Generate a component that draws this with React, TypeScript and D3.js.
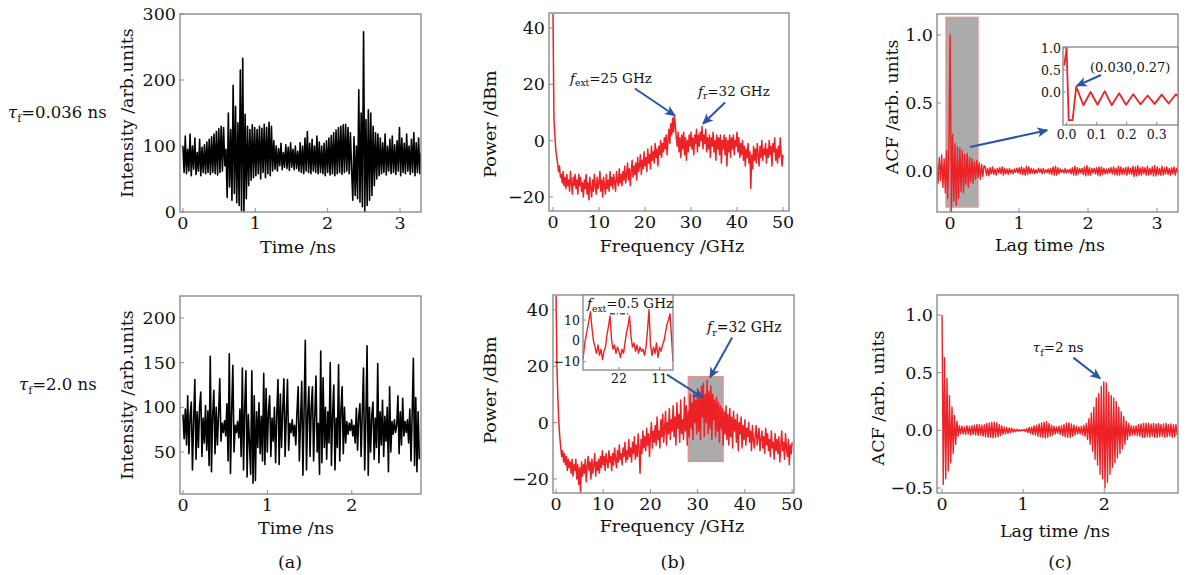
import React from "react";
import * as d3 from "d3";

// ---------- (a) intensity time series ----------
const timeSpanA1 = 3.29; // ns
const intensityA1 = [
  100, 60, 115, 58, 95, 62, 118, 55, 100, 65, 112, 57, 90, 62, 110, 55, 98, 60,
  102, 58, 106, 60, 110, 57, 114, 60, 118, 58, 122, 56, 126, 60, 130, 62,
  128, 70, 95,
  22, 150, 38, 125, 18, 192, 28, 160, 14, 135, 10, 215, 2, 233, 0, 148, 20, 130, 40, 125, 48, 132,
  52, 128, 55, 125, 58, 130, 50, 127, 60, 133, 52, 128, 58, 136, 55, 130, 62, 108,
  65, 100, 62, 96, 70, 104, 64, 90, 68, 102, 66, 98, 63, 105, 68, 95, 64, 100, 66, 92, 62,
  105, 60, 100, 58, 112, 62, 122, 60, 104, 58, 110, 62, 100, 60, 115, 58, 106, 60,
  100, 58, 104, 55, 108, 60, 112, 56, 116, 58, 120, 55, 124, 58, 128, 60, 130, 57, 132, 60, 133, 62, 128, 58, 120, 65,
  18, 114, 25, 100, 20, 185, 15, 150, 8, 273, 0, 140, 10, 155, 18, 150, 25, 130, 40, 120, 50, 118,
  55, 112, 58, 105, 60, 118, 56, 100, 62, 110, 58, 115, 60, 102, 57, 108, 62, 128, 55, 112, 60, 104, 58, 118, 62, 100, 57, 110, 60, 120, 55, 105, 60, 112, 58, 90,
];

const timeSpanA2 = 2.8; // ns
const intensityA2 = [
  92, 65, 98, 58, 113, 48, 90, 106, 30, 85, 131, 42, 95, 55, 100, 117, 45, 88, 60, 102,
  52, 96, 35, 157, 28, 90, 119, 48, 100, 58, 92, 132, 62, 82, 72, 85, 68, 104, 40, 160,
  26, 95, 147, 50, 80, 72, 84, 66, 98, 45, 144, 30, 100, 141, 22, 92, 60, 25, 141, 15,
  113, 18, 95, 55, 105, 48, 90, 40, 138, 36, 121, 50, 95, 113, 45, 88, 62, 100, 38, 92,
  131, 36, 115, 55, 98, 132, 45, 90, 131, 52, 82, 72, 86, 68, 80, 58, 95, 123, 40, 85,
  129, 24, 98, 175, 30, 92, 123, 45, 100, 123, 40, 90, 135, 50, 82, 25, 163, 38, 133, 55,
  100, 42, 95, 60, 150, 35, 92, 125, 30, 88, 55, 148, 40, 96, 123, 48, 100, 60, 84, 70,
  82, 74, 86, 68, 80, 60, 99, 52, 90, 104, 45, 95, 144, 30, 85, 169, 24, 100, 50, 92,
  106, 42, 88, 55, 149, 38, 95, 58, 108, 45, 90, 62, 100, 28, 123, 50, 84, 70, 86, 72,
  80, 113, 48, 95, 58, 110, 68, 84, 72, 86, 60, 98, 40, 92, 155, 35, 111, 28, 95, 42,
];

// ---------- (b) power spectra ----------
const freqStep = 0.2; // GHz
const spectrumB1 = [
  45, 8, 2, -3, -6, -8, -11, -9, -13, -12, -15, -11, -16, -13, -17, -12, -16, -14, -18, -11,
  -15, -19, -13, -16, -12, -17, -14, -19, -12, -16, -13, -18, -15, -20, -14, -17, -12, -19, -15, -21,
  -13, -17, -20, -14, -18, -12, -16, -19, -13, -17, -15, -11, -18, -14, -20, -13, -16, -19, -12, -17,
  -14, -18, -11, -16, -13, -17, -12, -15, -18, -11, -14, -16, -10, -15, -12, -16, -11, -14, -9, -15,
  -12, -8, -14, -10, -16, -11, -7, -13, -9, -12, -8, -14, -6, -11, -9, -5, -12, -7, -10, -4,
  -9, -6, -11, -3, -8, -5, -10, -2, -7, -4, -8, -1, -6, -3, -9, -2, -5, 0, -6, -1,
  -4, 1, -3, 2, -5, 0, 4, -1, 6, 2, 8, 3, 9, 5, 1, -2, 3, -4, 1, -6,
  2, -3, 3, -5, 1, -7, 0, -4, 2, -2, 3, -3, 1, -5, 2, -1, 4, -4, 2, -2,
  3, 0, 5, -3, 2, -1, 4, -4, 1, -3, 2, -6, 1, -2, 3, -4, 0, -7, 2, -3,
  1, -5, 2, -8, 0, -3, 2, -5, 1, -9, 0, -4, 2, -6, 1, -3, 2, -5, 0, -2,
  3, -4, 1, -6, -1, -5, 0, -7, -2, -9, -3, -6, -1, -8, -4, -17, -5, -10, -2, -7,
  -3, -8, -1, -5, -9, -2, -6, 0, -7, -3, -5, -1, -8, -3, -6, 0, -5, -2, -9, -1,
  -4, 1, -7, -3, -8, -2, -6, 1, -5, -9, -5,
];

const spectrumB2 = [
  45, 20, 8, 0, -5, -9, -12, -10, -14, -11, -15, -12, -17, -13, -16, -14, -18, -13, -19, -15,
  -17, -13, -20, -15, -22, -16, -25, -14, -19, -15, -18, -13, -21, -16, -12, -17, -14, -20, -13, -18,
  -15, -11, -19, -14, -17, -13, -18, -12, -16, -10, -15, -12, -17, -11, -14, -16, -10, -14, -12, -17,
  -11, -15, -9, -13, -16, -10, -14, -8, -13, -11, -15, -9, -12, -7, -14, -10, -13, -6, -12, -9,
  -14, -7, -11, -5, -13, -8, -12, -4, -10, -18, -6, -11, -3, -9, -5, -10, -2, -8, -4, -12,
  -5, 0, -9, -3, -7, -1, -8, 2, -6, -3, -9, 1, -5, 3, -7, -2, 4, -8, 0, -4,
  5, -6, 1, -3, 6, -5, 2, -8, 7, -2, 3, -7, 8, -4, 1, -6, 9, -3, 6, -8,
  4, -5, 10, -2, 7, -6, 11, 0, 8, -4, 12, -3, 9, -6, 13, 2, 14, -5, 10, 0,
  15, -4, 11, -2, 13, -6, 10, 1, 8, -5, 9, -3, 7, -7, 6, -2, 5, -8, 4, -4,
  6, -6, 3, -8, 5, -5, 2, -9, 4, -3, 1, -7, 3, -10, 0, -4, 2, -9, -1, -6,
  1, -8, -2, -5, 0, -7, -3, -10, -1, -6, -9, -4, -1, -8, -5, -2, -10, -6, -3, -9,
  -5, -11, -2, -8, -4, -10, -6, -12, -3, -9, -7, -13, -4, -10, -6, -11, -5, -14, -8, -3,
  -10, -7, -13, -4, -9, -12, -6, -15, -8, -11, -7,
];

// inset of (b) lower: comb lines spaced by f_ext
const insetBValues = [
  -9, -2, 2, 6, 10, 14, 6, 0, -3, -6, -2, -7, -4, -9, -5, -3, 3, 7, 12, 1,
  -4, -2, -6, -3, -5, -8, -4, -6, -1, 4, 7, 12, 2, -3, -1, -5, -2, -6, -3, -5,
  -4, -7, -3, 5, 15, -2, -7, -3, -6, -1, -8, -3, -5, -2, 0, 4, 8, 10, 13, 2, -10,
];
const insetBTickPos = [24, 51];
const insetBTickLabels = ["22", "11"];
const insetBYTicks = [-10, 0, 10];

// ---------- (c) autocorrelation ----------
const lagStartC1 = -0.19;
const lagEndC1 = 3.3;
const acfC1 = [
  0.04, -0.09, 0.10, -0.07, 0.12, -0.12, 0.09, -0.16, 0.15, -0.20,
  0.22, 1.00, -0.30, 0.27, -0.22, 0.20, -0.25, 0.18, -0.20, 0.17,
  -0.15, 0.15, -0.16, 0.12, -0.10, 0.13, -0.12, 0.10, -0.08, 0.09,
  -0.09, 0.07, -0.06, 0.08, -0.05, 0.06, -0.06, 0.05, -0.04, 0.04,
  0.03, -0.03, 0.02, -0.035, 0.025, -0.02, 0.03, -0.025, 0.015, -0.03,
  0.02, -0.015, 0.025, -0.02, 0.03, -0.03, 0.02, -0.02, 0.015, -0.025,
  0.02, -0.015, 0.01, -0.02, 0.015, -0.01, 0.02, -0.015, 0.025, -0.02,
  0.03, -0.025, 0.02, -0.03, 0.035, -0.025, 0.03, -0.02, 0.02, -0.015,
  0.015, -0.02, 0.01, -0.015, 0.02, -0.01, 0.015, -0.02, 0.02, -0.015,
  0.01, -0.01, 0.015, -0.02, 0.02, -0.025, 0.03, -0.03, 0.035, -0.03,
  0.025, -0.02, 0.015, -0.01, 0.01, -0.015, 0.02, -0.015, 0.01, -0.01,
  0.015, -0.02, 0.025, -0.03, 0.035, -0.03, 0.025, -0.02, 0.02, -0.015,
  0.02, -0.025, 0.03, -0.035, 0.04, -0.03, 0.025, -0.03, 0.02, -0.015,
  0.02, -0.02, 0.025, -0.03, 0.03, -0.035, 0.03, -0.025, 0.02, -0.02,
  0.015, -0.02, 0.02, -0.015, 0.025, -0.02, 0.03, -0.025, 0.02, -0.03,
  0.035, -0.03, 0.03, -0.025, 0.02, -0.02, 0.025, -0.03, 0.03, -0.02,
  0.02, -0.025, 0.035, -0.04, 0.03, -0.035, 0.04, -0.03, 0.025, -0.03,
  0.03, -0.02, 0.025, -0.03, 0.035, -0.03, 0.02, -0.025, 0.03, -0.035,
  0.04, -0.035, 0.03, -0.025, 0.02, -0.03, 0.035, -0.03, 0.025, -0.02,
  0.03, -0.025, 0.02, -0.03, 0.025, -0.02, 0.03, -0.03, 0.02, -0.01,
];

const insetCLag = [-0.008, 0.0, 0.007, 0.02, 0.032, 0.056, 0.08, 0.103, 0.127, 0.15, 0.175, 0.198, 0.222, 0.246, 0.27, 0.293, 0.317, 0.34, 0.364, 0.371];
const insetCAcf = [0.6, 1.0, -0.64, -0.64, 0.12, -0.3, 0.0, -0.29, 0.02, -0.3, -0.03, -0.29, -0.05, -0.28, -0.08, -0.27, -0.06, -0.26, -0.05, -0.1];
const insetCXTicks = [0, 0.1, 0.2, 0.3];
const insetCYTicks = [0, 0.5, 1.0];

const lagEndC2 = 2.9;
const acfC2 = [
  1.0, -0.47, 0.63, -0.42, 0.45, -0.35, 0.3, -0.28, 0.2, -0.2, 0.13, -0.12, 0.08,
  -0.05, 0.04, -0.03, 0.035, -0.03, 0.03, -0.035, 0.04, -0.03, 0.035, -0.04, 0.04, -0.035, 0.045, -0.04, 0.05, -0.045, 0.05, -0.04,
  0.045, -0.05, 0.05, -0.055, 0.06, -0.06, 0.065, -0.06, 0.07, -0.065, 0.07, -0.06, 0.065, -0.055, 0.05, -0.045, 0.04,
  -0.035, 0.03, -0.03, 0.025, -0.025, 0.02, -0.02, 0.018, -0.015, 0.012, -0.012, 0.01, -0.008, 0.006, -0.005, 0.004, -0.004,
  0.008, -0.012, 0.015, -0.02, 0.025, -0.028, 0.03, -0.035, 0.04, -0.04, 0.045, -0.05, 0.055,
  -0.055, 0.065, -0.06, 0.07, -0.065, 0.075, -0.06, 0.06, -0.05, 0.045, -0.04, 0.035,
  -0.03, 0.03, -0.025, 0.035, -0.035, 0.04, -0.045,
  0.05, -0.055, 0.065, -0.06, 0.065, -0.06, 0.055, -0.05, 0.045, -0.04, 0.035,
  -0.03, 0.03, -0.03, 0.035, -0.04, 0.045, -0.05, 0.06, -0.08, 0.1,
  -0.12, 0.15, -0.18, 0.2, -0.25, 0.28, -0.3, 0.32, -0.38, 0.38, -0.42,
  0.42, -0.5, 0.41, -0.45, 0.33, -0.38, 0.3,
  -0.32, 0.28, -0.28, 0.25, -0.24, 0.2, -0.2, 0.16, -0.16, 0.12, -0.12, 0.08, -0.08, 0.06,
  -0.05, 0.04, -0.04, 0.035, -0.04, 0.04, -0.045, 0.05, -0.05, 0.055, -0.06, 0.06,
  -0.06, 0.06, -0.055, 0.06, -0.06, 0.055, -0.05, 0.06, -0.06, 0.055, -0.06, 0.06, -0.055, 0.05,
  -0.05, 0.055, -0.06, 0.06, -0.055, 0.05, -0.05, 0.055, -0.06, 0.05, -0.055, 0.05, -0.04,
];

// ---------- styling ----------
const FONT = "'DejaVu Serif', serif";
const RED = "#ec2227";
const BLUE = "#2756a6";
const FRAME = "#8c8c8c";
const GRAY = "#ababab";
const PINK = "#f08a8a";
const FS = 17.5;

type Lin = d3.ScaleLinear<number, number>;

function Frame({ xs, ys, xTicks, yTicks, xFmt, yFmt, fs = FS, tick = 4, xDy = 17, yDx = 4 }: any) {
  const [x0, x1] = xs.range();
  const [y0, y1] = ys.range();
  return (
    <g fontFamily={FONT} fontSize={fs} fill="#111">
      <rect x={x0} y={y1} width={x1 - x0} height={y0 - y1} fill="none" stroke={FRAME} strokeWidth={1.4} />
      {xTicks.map((t: number, i: number) => (
        <g key={"x" + i}>
          <line x1={xs(t)} x2={xs(t)} y1={y0} y2={y0 - tick} stroke={FRAME} strokeWidth={1} />
          <text x={xs(t)} y={y0 + xDy} textAnchor="middle">{xFmt(t, i)}</text>
        </g>
      ))}
      {yTicks.map((t: number, i: number) => (
        <g key={"y" + i}>
          <line x1={x0} x2={x0 + tick} y1={ys(t)} y2={ys(t)} stroke={FRAME} strokeWidth={1} />
          <text x={x0 - yDx} y={ys(t)} textAnchor="end" dominantBaseline="central">{yFmt(t, i)}</text>
        </g>
      ))}
    </g>
  );
}

function seriesPath(xs: Lin, ys: Lin, vals: number[], x0: number, x1: number) {
  const step = (x1 - x0) / (vals.length - 1);
  return d3.line<number>().x((_, i) => xs(x0 + i * step)).y((d) => ys(d))(vals) || "";
}

function Arrow({ x1, y1, x2, y2 }: { x1: number; y1: number; x2: number; y2: number }) {
  return <line x1={x1} y1={y1} x2={x2} y2={y2} stroke={BLUE} strokeWidth={2} markerEnd="url(#arrowHead)" />;
}

function Sub({ x, y, main, sub, rest, fs = 13.5, italicMain = true }: any) {
  return (
    <text x={x} y={y} fontFamily={FONT} fontSize={fs} fill="#111">
      <tspan fontStyle={italicMain ? "italic" : "normal"}>{main}</tspan>
      <tspan fontSize={fs * 0.68} dy={fs * 0.28}>{sub}</tspan>
      <tspan dy={-fs * 0.28}>{rest}</tspan>
    </text>
  );
}

const intFmt = (d: number) => d3.format("d")(d);
const oneFmt = (d: number) => d3.format(".1f")(d);

export default function App() {
  const xA1 = d3.scaleLinear().domain([-0.04, 3.29]).range([180, 421]);
  const yA1 = d3.scaleLinear().domain([0, 300]).range([212, 14]);
  const xA2 = d3.scaleLinear().domain([-0.035, 2.82]).range([180, 421]);
  const yA2 = d3.scaleLinear().domain([3, 224.6]).range([494, 296]);
  const xB1 = d3.scaleLinear().domain([-0.87, 51.3]).range([549, 789]);
  const yB1 = d3.scaleLinear().domain([-25, 45.3]).range([211, 13]);
  const xB2 = d3.scaleLinear().domain([-0.64, 50.4]).range([553, 794]);
  const yB2 = d3.scaleLinear().domain([-25, 45.3]).range([493, 295]);
  const xC1 = d3.scaleLinear().domain([-0.188, 3.304]).range([937, 1178]);
  const yC1 = d3.scaleLinear().domain([-0.301, 1.154]).range([212, 14]);
  const xC2 = d3.scaleLinear().domain([-0.062, 2.91]).range([937, 1178]);
  const yC2 = d3.scaleLinear().domain([-0.543, 1.173]).range([493, 295]);
  const xIB = d3.scaleLinear().domain([0, insetBValues.length - 1]).range([583, 673]);
  const yIB = d3.scaleLinear().domain([-14, 22]).range([370, 295]);
  const xIC = d3.scaleLinear().domain([-0.012, 0.371]).range([1063, 1178]);
  const yIC = d3.scaleLinear().domain([-0.75, 1.023]).range([125, 47]);

  const clip = (id: string, xs: Lin, ys: Lin) => {
    const [x0, x1] = xs.range();
    const [y0, y1] = ys.range();
    return (
      <clipPath id={id} key={id}>
        <rect x={x0} y={y1} width={x1 - x0} height={y0 - y1} />
      </clipPath>
    );
  };

  const specEnd = (arr: number[]) => (arr.length - 1) * freqStep;
  const insetCPath = d3.line<number>().x((_, i) => xIC(insetCLag[i])).y((d) => yIC(d))(insetCAcf) || "";
  const title = { fontFamily: FONT, fontSize: FS, fill: "#111" } as any;

  return (
    <svg width={1186} height={575} style={{ position: "absolute", left: 0, top: 0, background: "#fff" }}>
      <defs>
        <marker id="arrowHead" viewBox="0 0 10 10" refX={9} refY={5} markerWidth={5.5} markerHeight={5.5} orient="auto">
          <path d="M0,0.5 L10,5 L0,9.5 L2.5,5 z" fill={BLUE} />
        </marker>
        {clip("cA1", xA1, yA1)}
        {clip("cA2", xA2, yA2)}
        {clip("cB1", xB1, yB1)}
        {clip("cB2", xB2, yB2)}
        {clip("cC1", xC1, yC1)}
        {clip("cC2", xC2, yC2)}
        {clip("cIB", xIB, yIB)}
        {clip("cIC", xIC, yIC)}
      </defs>

      {/* row labels */}
      <text x={8} y={118} fontFamily={FONT} fontSize={16.5} fill="#111">
        <tspan fontStyle="italic">τ</tspan>
        <tspan fontSize={11} dy={4}>f</tspan>
        <tspan dy={-4}>=0.036 ns</tspan>
      </text>
      <text x={19} y={390} fontFamily={FONT} fontSize={16.5} fill="#111">
        <tspan fontStyle="italic">τ</tspan>
        <tspan fontSize={11} dy={4}>f</tspan>
        <tspan dy={-4}>=2.0 ns</tspan>
      </text>

      {/* ===== (a) top ===== */}
      <g clipPath="url(#cA1)">
        <path d={seriesPath(xA1, yA1, intensityA1, 0, timeSpanA1)} fill="none" stroke="#000" strokeWidth={1.6} strokeLinejoin="round" />
      </g>
      <Frame xs={xA1} ys={yA1} xTicks={[0, 1, 2, 3]} yTicks={[0, 100, 200, 300]} xFmt={intFmt} yFmt={intFmt} />
      <text transform="translate(133,113) rotate(-90)" textAnchor="middle" {...title}>Intensity /arb.units</text>
      <text x={298} y={253} textAnchor="middle" {...title}>Time /ns</text>

      {/* ===== (a) bottom ===== */}
      <g clipPath="url(#cA2)">
        <path d={seriesPath(xA2, yA2, intensityA2, 0, timeSpanA2)} fill="none" stroke="#000" strokeWidth={1.6} strokeLinejoin="round" />
      </g>
      <Frame xs={xA2} ys={yA2} xTicks={[0, 1, 2]} yTicks={[50, 100, 150, 200]} xFmt={intFmt} yFmt={intFmt} />
      <text transform="translate(133,395) rotate(-90)" textAnchor="middle" {...title}>Intensity /arb.units</text>
      <text x={296} y={534} textAnchor="middle" {...title}>Time /ns</text>

      {/* ===== (b) top ===== */}
      <g clipPath="url(#cB1)">
        <path d={seriesPath(xB1, yB1, spectrumB1, 0, specEnd(spectrumB1))} fill="none" stroke={RED} strokeWidth={1.5} strokeLinejoin="round" />
      </g>
      <Frame xs={xB1} ys={yB1} xTicks={[0, 10, 20, 30, 40, 50]} yTicks={[-20, 0, 20, 40]} xFmt={intFmt} yFmt={intFmt} />
      <text transform="translate(496,124) rotate(-90)" textAnchor="middle" {...title}>Power /dBm</text>
      <text x={672} y={252} textAnchor="middle" {...title}>Frequency /GHz</text>
      <Sub x={xB1(3.7)} y={yB1(20.6)} main="f" sub="ext" rest="=25 GHz" />
      <Sub x={xB1(31.5)} y={yB1(16)} main="f" sub="r" rest="=32 GHz" />
      <Arrow x1={xB1(17.8)} y1={yB1(18.5)} x2={xB1(26.5)} y2={yB1(8.9)} />
      <Arrow x1={xB1(37.4)} y1={yB1(13.5)} x2={xB1(32.6)} y2={yB1(6)} />

      {/* ===== (b) bottom ===== */}
      <rect x={xB2(28)} y={yB2(16.3)} width={xB2(35.4) - xB2(28)} height={yB2(-13.8) - yB2(16.3)} fill={GRAY} stroke={PINK} strokeWidth={1.2} />
      <g clipPath="url(#cB2)">
        <path d={seriesPath(xB2, yB2, spectrumB2, 0, specEnd(spectrumB2))} fill="none" stroke={RED} strokeWidth={1.5} strokeLinejoin="round" />
      </g>
      <Frame xs={xB2} ys={yB2} xTicks={[0, 10, 20, 30, 40, 50]} yTicks={[-20, 0, 20, 40]} xFmt={intFmt} yFmt={intFmt} />
      <text transform="translate(496,390) rotate(-90)" textAnchor="middle" {...title}>Power /dBm</text>
      <text x={672} y={532} textAnchor="middle" {...title}>Frequency /GHz</text>
      {/* inset */}
      <rect x={583} y={295} width={90} height={75} fill="#fff" />
      <g clipPath="url(#cIB)">
        <path d={seriesPath(xIB, yIB, insetBValues, 0, insetBValues.length - 1)} fill="none" stroke={RED} strokeWidth={1.4} strokeLinejoin="round" />
      </g>
      <line x1={xIB(18)} x2={xIB(31)} y1={yIB(13)} y2={yIB(13)} stroke={BLUE} strokeWidth={1.5} strokeDasharray="5,2,1,2" />
      <Frame xs={xIB} ys={yIB} xTicks={insetBTickPos} yTicks={insetBYTicks} xFmt={(_: number, i: number) => insetBTickLabels[i]} yFmt={intFmt} fs={12.5} tick={3} xDy={13} yDx={3} />
      <Sub x={587} y={308} main="f" sub="ext" rest="=0.5 GHz" fs={13.5} />
      <Sub x={xB2(32)} y={yB2(32)} main="f" sub="r" rest="=32 GHz" fs={14} />
      <Arrow x1={xB2(37.3)} y1={yB2(30.2)} x2={xB2(32.6)} y2={yB2(16)} />
      <Arrow x1={xB2(23.5)} y1={yB2(17)} x2={xB2(31.1)} y2={yB2(8.9)} />

      {/* ===== (c) top ===== */}
      <rect x={xC1(-0.058)} y={yC1(1.13)} width={xC1(0.406) - xC1(-0.058)} height={yC1(-0.265) - yC1(1.13)} fill={GRAY} stroke={PINK} strokeWidth={1.2} />
      <g clipPath="url(#cC1)">
        <path d={seriesPath(xC1, yC1, acfC1, lagStartC1, lagEndC1)} fill="none" stroke={RED} strokeWidth={1.4} strokeLinejoin="round" />
      </g>
      <Frame xs={xC1} ys={yC1} xTicks={[0, 1, 2, 3]} yTicks={[0, 0.5, 1.0]} xFmt={intFmt} yFmt={oneFmt} />
      <text transform="translate(898,107) rotate(-90)" textAnchor="middle" {...title}>ACF /arb. units</text>
      <text x={1050} y={251} textAnchor="middle" {...title}>Lag time /ns</text>
      {/* inset */}
      <rect x={1063} y={47} width={115} height={78} fill="#fff" />
      <g clipPath="url(#cIC)">
        <path d={insetCPath} fill="none" stroke={RED} strokeWidth={1.8} strokeLinejoin="round" />
      </g>
      <Frame xs={xIC} ys={yIC} xTicks={insetCXTicks} yTicks={insetCYTicks} xFmt={oneFmt} yFmt={oneFmt} fs={12.5} tick={3} xDy={14} yDx={2} />
      <text x={1090} y={72} fontFamily={FONT} fontSize={13} fill="#111">(0.030,0.27)</text>
      <Arrow x1={1101} y1={75} x2={xIC(0.034)} y2={yIC(0.14)} />
      <Arrow x1={xC1(0.29)} y1={yC1(0.176)} x2={xC1(1.41)} y2={yC1(0.3)} />

      {/* ===== (c) bottom ===== */}
      <g clipPath="url(#cC2)">
        <path d={seriesPath(xC2, yC2, acfC2, 0, lagEndC2)} fill="none" stroke={RED} strokeWidth={1.4} strokeLinejoin="round" />
      </g>
      <Frame xs={xC2} ys={yC2} xTicks={[0, 1, 2]} yTicks={[-0.5, 0, 0.5, 1.0]} xFmt={intFmt} yFmt={oneFmt} />
      <text transform="translate(884,398) rotate(-90)" textAnchor="middle" {...title}>ACF /arb. units</text>
      <text x={1055} y={537} textAnchor="middle" {...title}>Lag time /ns</text>
      <text x={xC2(1.12)} y={yC2(0.68)} fontFamily={FONT} fontSize={13.5} fill="#111">
        <tspan fontStyle="italic">τ</tspan>
        <tspan fontSize={9.2} dy={3.8}>f</tspan>
        <tspan dy={-3.8}>=2 ns</tspan>
      </text>
      <Arrow x1={xC2(1.62)} y1={yC2(0.63)} x2={xC2(1.95)} y2={yC2(0.45)} />

      {/* panel letters */}
      <text x={290} y={568} textAnchor="middle" {...title}>(a)</text>
      <text x={673} y={568} textAnchor="middle" {...title}>(b)</text>
      <text x={1060} y={568} textAnchor="middle" {...title}>(c)</text>
    </svg>
  );
}
